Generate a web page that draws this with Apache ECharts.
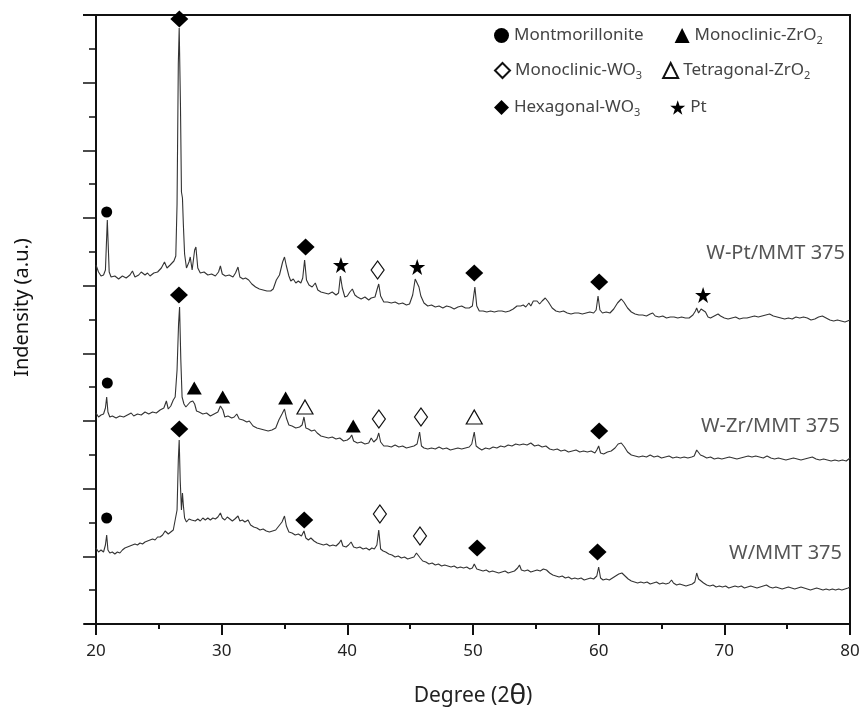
<!DOCTYPE html>
<html>
<head>
<meta charset="utf-8">
<script src="https://cdn.jsdelivr.net/npm/echarts@6/dist/echarts.min.js"></script>
<style>html,body{margin:0;padding:0;background:#fff}#chart{width:865px;height:715px}</style>
</head>
<body>
<div id="chart"></div>
<script>
// 2θ (degree) vs intensity (a.u.)
const wPtMmt375 = [[20.0,359],[20.2,352],[20.4,348],[20.6,349],[20.75,354],[20.9,404],[21.05,352],[21.2,347],[21.5,348],[21.8,345],[22.1,348],[22.4,346],[22.7,349],[22.9,353],[23.1,347],[23.4,349],[23.6,352],[23.75,353],[23.9,349],[24.1,351],[24.3,348],[24.6,351],[24.9,352],[25.2,356],[25.45,362],[25.65,356],[25.9,359],[26.2,363],[26.35,368],[26.45,420],[26.55,560],[26.62,596],[26.72,520],[26.8,432],[26.88,426],[26.95,400],[27.05,370],[27.2,356],[27.4,362],[27.5,367],[27.65,354],[27.85,374],[27.95,377],[28.1,356],[28.3,351],[28.6,352],[28.9,349],[29.2,350],[29.5,348],[29.75,352],[29.9,358],[30.05,350],[30.3,348],[30.6,349],[30.9,347],[31.1,351],[31.3,357],[31.45,347],[31.7,345],[31.9,346],[32.15,344],[32.4,340],[32.7,337],[33.0,335],[33.3,334],[33.6,333],[33.9,333],[34.1,335],[34.35,344],[34.6,349],[34.85,362],[35.0,367],[35.15,358],[35.35,348],[35.5,343],[35.7,345],[35.9,341],[36.1,343],[36.3,341],[36.45,346],[36.6,364],[36.75,344],[36.95,339],[37.2,337],[37.45,341],[37.65,334],[37.9,332],[38.2,331],[38.5,330],[38.8,332],[39.1,329],[39.3,331],[39.45,348],[39.6,336],[39.8,327],[40.0,328],[40.2,332],[40.4,335],[40.6,329],[40.8,327],[41.1,325],[41.4,327],[41.7,324],[41.9,326],[42.2,327],[42.4,336],[42.5,340],[42.65,328],[42.9,322],[43.2,322],[43.5,321],[43.8,322],[44.1,320],[44.4,321],[44.7,319],[44.95,320],[45.2,329],[45.4,345],[45.55,346],[45.7,337],[45.85,328],[46.1,321],[46.4,318],[46.7,319],[47.0,317],[47.3,318],[47.6,316],[47.9,318],[48.2,317],[48.5,315],[48.8,317],[49.1,318],[49.4,316],[49.7,316],[49.95,318],[50.15,337],[50.3,318],[50.5,313],[50.8,313],[51.1,312],[51.4,313],[51.7,312],[52.0,313],[52.3,313],[52.6,312],[52.9,313],[53.2,315],[53.5,318],[53.8,318],[54.0,319],[54.2,317],[54.45,321],[54.6,318],[54.8,323],[54.95,321],[55.1,323],[55.3,320],[55.5,323],[55.75,326],[56.0,322],[56.3,316],[56.6,313],[56.9,312],[57.2,313],[57.5,311],[57.8,310],[58.1,311],[58.4,311],[58.7,310],[59.0,311],[59.3,312],[59.6,311],[59.8,314],[59.95,328],[60.1,314],[60.3,311],[60.6,312],[60.9,311],[61.2,315],[61.5,321],[61.8,325],[62.0,322],[62.3,316],[62.6,312],[62.9,310],[63.2,309],[63.5,309],[63.8,308],[64.1,310],[64.3,311],[64.5,308],[64.8,307],[65.1,308],[65.4,306],[65.7,307],[66.0,307],[66.3,306],[66.6,307],[66.9,306],[67.2,306],[67.5,309],[67.7,313],[67.8,316],[67.95,311],[68.15,315],[68.3,317],[68.5,312],[68.7,307],[68.9,306],[69.2,308],[69.5,310],[69.7,308],[70.0,306],[70.3,305],[70.6,306],[70.9,307],[71.2,305],[71.5,306],[71.8,306],[72.1,307],[72.4,308],[72.7,307],[73.0,308],[73.3,309],[73.6,310],[73.9,308],[74.2,307],[74.5,306],[74.8,305],[75.1,306],[75.4,305],[75.7,307],[76.0,306],[76.3,307],[76.6,306],[76.9,304],[77.2,305],[77.5,307],[77.8,308],[78.1,306],[78.4,304],[78.7,303],[79.0,304],[79.3,303],[79.6,302],[79.8,303],[80.0,304]];

const wZrMmt375 = [[20.0,211],[20.2,207],[20.4,209],[20.6,210],[20.75,216],[20.85,227],[20.95,212],[21.1,207],[21.3,208],[21.6,206],[21.9,208],[22.2,207],[22.5,209],[22.8,211],[23.0,208],[23.3,210],[23.6,209],[23.9,212],[24.2,210],[24.5,212],[24.8,211],[25.1,214],[25.4,216],[25.6,223],[25.75,215],[25.95,218],[26.15,224],[26.3,227],[26.45,254],[26.57,300],[26.65,317],[26.75,264],[26.85,227],[27.0,220],[27.15,217],[27.3,218],[27.5,222],[27.7,223],[27.85,220],[28.0,213],[28.2,212],[28.5,210],[28.8,211],[29.1,208],[29.4,210],[29.7,212],[29.9,218],[30.0,219],[30.1,214],[30.25,207],[30.5,208],[30.8,206],[31.0,207],[31.2,210],[31.4,205],[31.7,204],[32.0,202],[32.2,203],[32.5,198],[32.8,196],[33.1,195],[33.4,194],[33.7,193],[34.0,194],[34.3,196],[34.55,204],[34.8,210],[35.0,215],[35.15,206],[35.35,199],[35.6,198],[35.9,196],[36.2,197],[36.4,199],[36.55,207],[36.7,196],[36.9,195],[37.15,193],[37.4,194],[37.6,191],[37.9,188],[38.2,187],[38.5,186],[38.8,187],[39.1,185],[39.4,186],[39.7,183],[40.0,184],[40.2,186],[40.35,189],[40.5,183],[40.8,181],[41.1,182],[41.4,180],[41.7,181],[41.9,186],[42.1,182],[42.35,185],[42.5,191],[42.65,182],[42.9,178],[43.2,178],[43.5,177],[43.8,179],[44.1,177],[44.4,178],[44.7,176],[45.0,177],[45.3,178],[45.55,180],[45.75,192],[45.9,178],[46.1,176],[46.4,175],[46.7,176],[47.0,175],[47.3,177],[47.6,175],[47.9,176],[48.2,174],[48.5,175],[48.8,176],[49.1,175],[49.4,176],[49.7,177],[49.9,180],[50.1,192],[50.25,178],[50.45,176],[50.7,174],[51.0,176],[51.3,175],[51.6,177],[51.9,176],[52.2,178],[52.5,177],[52.8,179],[53.1,178],[53.4,180],[53.7,179],[54.0,180],[54.3,179],[54.6,181],[54.9,178],[55.2,179],[55.5,177],[55.8,178],[56.1,175],[56.4,174],[56.7,175],[57.0,173],[57.3,174],[57.6,172],[57.9,173],[58.2,174],[58.5,172],[58.8,173],[59.1,172],[59.4,173],[59.7,171],[59.85,174],[60.0,178],[60.15,171],[60.4,170],[60.7,172],[61.0,173],[61.3,176],[61.55,180],[61.8,181],[62.05,177],[62.3,172],[62.6,169],[62.9,168],[63.2,167],[63.5,168],[63.8,167],[64.1,169],[64.4,167],[64.7,168],[65.0,166],[65.3,167],[65.6,168],[65.9,166],[66.2,167],[66.5,166],[66.8,167],[67.1,166],[67.4,167],[67.6,168],[67.8,174],[67.95,172],[68.1,169],[68.3,168],[68.6,166],[68.9,167],[69.2,165],[69.5,166],[69.8,165],[70.1,166],[70.4,167],[70.7,166],[71.0,165],[71.3,166],[71.6,167],[71.9,168],[72.2,167],[72.5,168],[72.8,167],[73.1,166],[73.4,168],[73.7,166],[74.0,165],[74.3,166],[74.6,165],[74.9,164],[75.2,165],[75.5,166],[75.8,165],[76.1,164],[76.4,165],[76.7,166],[77.0,167],[77.3,165],[77.6,164],[77.9,165],[78.2,164],[78.5,163],[78.8,164],[79.1,163],[79.4,164],[79.7,163],[80.0,166]];

const wMmt375 = [[20.0,76],[20.2,72],[20.4,74],[20.6,72],[20.75,79],[20.85,89],[20.95,74],[21.1,71],[21.3,72],[21.5,70],[21.7,72],[21.9,71],[22.1,74],[22.3,76],[22.5,77],[22.7,78],[22.9,79],[23.1,80],[23.3,79],[23.5,81],[23.7,80],[23.9,82],[24.1,83],[24.3,84],[24.5,85],[24.7,84],[24.9,87],[25.1,87],[25.3,89],[25.5,93],[25.6,94],[25.75,90],[25.95,92],[26.15,94],[26.3,96],[26.45,114],[26.55,164],[26.62,184],[26.7,144],[26.8,114],[26.88,131],[26.95,119],[27.05,106],[27.2,102],[27.4,105],[27.6,104],[27.75,106],[27.9,103],[28.1,105],[28.3,103],[28.5,106],[28.7,104],[28.9,106],[29.1,104],[29.3,106],[29.5,105],[29.7,107],[29.9,111],[30.05,106],[30.25,104],[30.45,107],[30.65,105],[30.85,103],[31.05,105],[31.3,108],[31.45,103],[31.65,104],[31.85,102],[32.1,104],[32.3,99],[32.55,97],[32.8,96],[33.05,94],[33.3,95],[33.55,93],[33.8,92],[34.05,93],[34.3,94],[34.55,98],[34.8,102],[35.0,108],[35.15,98],[35.35,92],[35.6,91],[35.85,89],[36.1,90],[36.35,88],[36.55,93],[36.7,86],[36.9,84],[37.1,86],[37.35,83],[37.6,81],[37.85,80],[38.1,79],[38.35,80],[38.6,78],[38.85,79],[39.1,78],[39.35,81],[39.5,84],[39.65,78],[39.9,77],[40.1,79],[40.3,82],[40.5,77],[40.75,76],[41.0,77],[41.25,75],[41.5,76],[41.75,74],[41.95,76],[42.15,75],[42.35,79],[42.5,94],[42.65,75],[42.85,73],[43.05,72],[43.3,70],[43.55,69],[43.8,67],[44.05,68],[44.3,66],[44.55,67],[44.8,65],[45.05,66],[45.3,67],[45.5,71],[45.65,72],[45.8,66],[46.0,63],[46.25,62],[46.5,60],[46.75,61],[47.0,59],[47.25,60],[47.5,58],[47.75,59],[48.0,58],[48.25,57],[48.5,58],[48.75,56],[49.0,57],[49.25,56],[49.5,57],[49.75,55],[49.95,56],[50.1,60],[50.3,55],[50.55,54],[50.8,53],[51.05,54],[51.3,52],[51.55,53],[51.8,52],[52.05,51],[52.3,52],[52.55,53],[52.8,51],[53.05,52],[53.3,53],[53.55,56],[53.7,59],[53.85,54],[54.1,53],[54.35,54],[54.6,52],[54.85,53],[55.1,54],[55.35,53],[55.6,55],[55.85,54],[56.1,51],[56.35,49],[56.6,48],[56.85,47],[57.1,48],[57.35,46],[57.6,47],[57.85,45],[58.1,46],[58.35,45],[58.6,46],[58.85,44],[59.1,45],[59.35,46],[59.6,45],[59.85,48],[60.0,57],[60.15,46],[60.35,44],[60.6,45],[60.85,44],[61.1,46],[61.35,48],[61.6,50],[61.85,51],[62.1,48],[62.35,45],[62.6,43],[62.85,42],[63.1,41],[63.35,42],[63.6,41],[63.85,42],[64.1,40],[64.35,41],[64.6,42],[64.85,40],[65.1,41],[65.35,40],[65.6,41],[65.8,44],[65.95,41],[66.2,39],[66.45,40],[66.7,39],[66.95,38],[67.2,39],[67.45,40],[67.65,42],[67.8,51],[67.95,45],[68.15,43],[68.35,41],[68.6,39],[68.85,38],[69.1,39],[69.35,37],[69.6,38],[69.85,37],[70.1,38],[70.35,36],[70.6,37],[70.85,38],[71.1,37],[71.35,38],[71.6,36],[71.85,37],[72.1,38],[72.35,37],[72.6,36],[72.85,37],[73.1,38],[73.35,39],[73.6,37],[73.85,36],[74.1,37],[74.35,36],[74.6,35],[74.85,36],[75.1,37],[75.35,36],[75.6,35],[75.85,36],[76.1,37],[76.35,36],[76.6,35],[76.85,34],[77.1,35],[77.35,36],[77.6,35],[77.85,34],[78.1,35],[78.35,34],[78.6,35],[78.85,34],[79.1,35],[79.35,34],[79.6,35],[79.85,36],[80.0,37]];

// phase markers [2θ, intensity]
const montmorillonite = [[20.85,412],[20.9,241],[20.85,106]];
const monoclinicZrO2 = [[27.82,236],[30.08,227],[35.09,226],[40.47,198]];
const monoclinicWO3 = [[42.41,354],[42.51,205],[45.86,207],[42.59,110],[45.78,88]];
const tetragonalZrO2 = [[36.63,217],[50.1,207]];
const hexagonalWO3 = [[26.63,605],[36.68,377],[50.1,351],[60.04,342],[26.6,329],[60.04,193],[26.63,195],[36.57,104],[50.33,76],[59.91,72]];
const platinum = [[39.49,359],[45.56,357],[68.31,329]];

const sampleNames = ['W-Pt/MMT 375','W-Zr/MMT 375','W/MMT 375'];
const xTicks = [20,30,40,50,60,70,80];

const STAR = 'path://M50,2 L61.8,37 L98,37 L68.5,58.5 L79.5,94 L50,72 L20.5,94 L31.5,58.5 L2,37 L38.2,37 Z';
const legendText = {
  'Montmorillonite':'Montmorillonite',
  'Monoclinic-ZrO2':'Monoclinic-ZrO{s|2}',
  'Monoclinic-WO3':'Monoclinic-WO{s|3}',
  'Tetragonal-ZrO2':'Tetragonal-ZrO{s|2}',
  'Hexagonal-WO3':'Hexagonal-WO{s|3}',
  'Pt':'Pt'
};
const legendStyle = {
  fontFamily:'Noto Sans', fontSize:17, color:'#444',
  rich:{ s:{fontFamily:'Noto Sans', fontSize:11, color:'#444', padding:[11,0,0,0]} }
};
function mkLegend(top, gap, names){
  return {top:top, left:494, padding:0, itemGap:gap, itemWidth:15, itemHeight:15,
    orient:'horizontal', data:names, textStyle:legendStyle,
    formatter:function(n){return legendText[n];}, selectedMode:false};
}

const chart = echarts.init(document.getElementById('chart'), null, {renderer:'canvas'});
const lineStyle = {color:'#333', width:1.1};
const dark = '#111';
function scatter(name, data, symbol, size, open){
  return {name:name, type:'scatter', data:data, symbol:symbol, symbolSize:size, z:5,
    itemStyle: open ? {color:'#fff', borderColor:'#111', borderWidth:1.2, opacity:1} : {color:'#000', opacity:1}};
}
chart.setOption({
  animation:false,
  grid:{left:96, right:15, top:15, bottom:91, show:true, borderColor:dark, borderWidth:2, backgroundColor:'transparent'},
  xAxis:{type:'value', min:20, max:80, interval:10,
    name:'Degree (2{t|θ})', nameLocation:'middle', nameGap:58,
    nameTextStyle:{fontFamily:'Noto Sans', fontSize:21, color:'#222',
      rich:{t:{fontFamily:'Noto Sans', fontSize:28, color:'#222'}}},
    axisLine:{lineStyle:{color:dark, width:2}},
    axisTick:{show:true, inside:false, length:11, lineStyle:{color:dark, width:2}},
    minorTick:{show:true, splitNumber:2, length:5, lineStyle:{color:dark, width:2}},
    axisLabel:{fontFamily:"'Noto Sans'", fontSize:17, color:'#222', margin:19,
      formatter:function(v){return xTicks.indexOf(v)>=0 ? String(v) : '';}},
    splitLine:{show:false}},
  yAxis:{type:'value', min:0, max:609, interval:609/9,
    name:'Indensity (a.u.)', nameLocation:'middle', nameGap:64, nameRotate:90,
    nameTextStyle:{fontFamily:'Noto Sans', fontSize:20, color:'#111', padding:[0,0,0,24]},
    axisLine:{show:true, lineStyle:{color:dark, width:2}},
    axisTick:{show:true, inside:false, length:13, lineStyle:{color:dark, width:1.5}},
    minorTick:{show:true, splitNumber:2, length:7, lineStyle:{color:dark, width:1.5}},
    axisLabel:{show:false}, splitLine:{show:false}},
  legend:[
    mkLegend(27, 31, ['Montmorillonite','Monoclinic-ZrO2']),
    mkLegend(62, 20, ['Monoclinic-WO3','Tetragonal-ZrO2']),
    mkLegend(99, 30, ['Hexagonal-WO3','Pt'])
  ],
  graphic:[
    {type:'line', shape:{x1:83, y1:15, x2:96, y2:15}, style:{stroke:dark, lineWidth:2}},
    {type:'line', shape:{x1:84, y1:624, x2:96, y2:624}, style:{stroke:dark, lineWidth:2}},
    {type:'text', right:20, top:243, style:{text:sampleNames[0], font:'20px "Noto Sans"', fill:'#555'}},
    {type:'text', right:25, top:416, style:{text:sampleNames[1], font:'20px "Noto Sans"', fill:'#555'}},
    {type:'text', right:23, top:543, style:{text:sampleNames[2], font:'20px "Noto Sans"', fill:'#555'}}
  ],
  series:[
    {name:sampleNames[0], type:'line', data:wPtMmt375, showSymbol:false, lineStyle:lineStyle, z:2},
    {name:sampleNames[1], type:'line', data:wZrMmt375, showSymbol:false, lineStyle:lineStyle, z:2},
    {name:sampleNames[2], type:'line', data:wMmt375, showSymbol:false, lineStyle:lineStyle, z:2},
    scatter('Montmorillonite', montmorillonite, 'circle', 11, false),
    scatter('Monoclinic-ZrO2', monoclinicZrO2, 'triangle', [15,13], false),
    scatter('Monoclinic-WO3', monoclinicWO3, 'diamond', [13,18], true),
    scatter('Tetragonal-ZrO2', tetragonalZrO2, 'triangle', [16,14], true),
    scatter('Hexagonal-WO3', hexagonalWO3, 'diamond', [18,17], false),
    scatter('Pt', platinum, STAR, 16, false)
  ]
});
</script>
</body>
</html>
